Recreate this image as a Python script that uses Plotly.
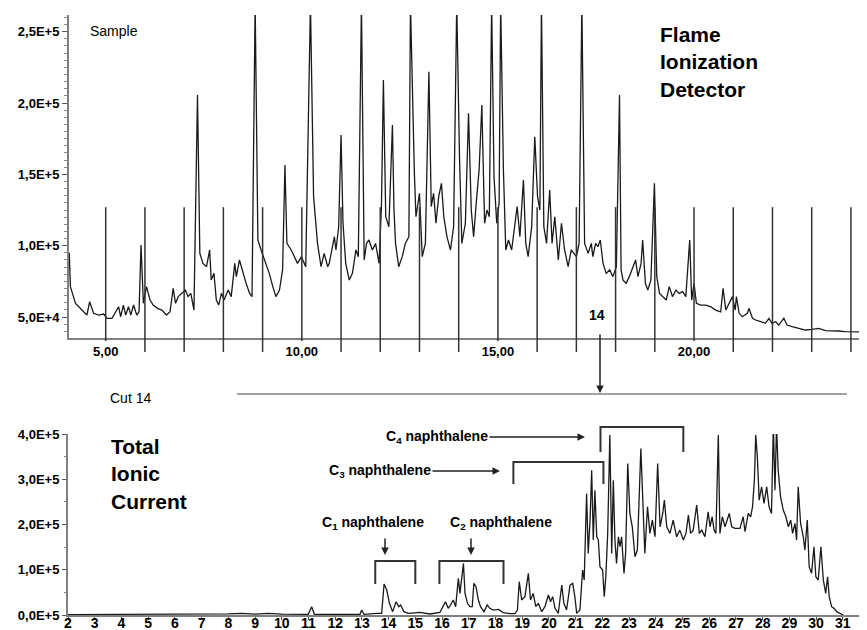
import plotly.graph_objects as go

# the page body adds an 8px margin, so the figure is drawn 8px in from the window corner
W, H = 867, 630
OFF = 8
FW, FH = W - OFF, H - OFF
FONT = "Liberation Sans, Arial, sans-serif"
INK = "#1a1a1a"
AXIS = "#808080"

# ---- Flame Ionization Detector trace (minutes, signal in thousands) ----
fid_time = [
    4.07, 4.10, 4.23, 4.40, 4.52, 4.59, 4.69, 4.82, 4.95, 5.03, 5.16, 5.33, 5.38, 5.45,
    5.51, 5.58, 5.64, 5.71, 5.79, 5.85, 5.90, 5.96, 6.04, 6.13, 6.21, 6.32, 6.43, 6.55,
    6.64, 6.72, 6.78, 6.85, 6.93, 7.03, 7.10, 7.17, 7.25, 7.34, 7.40, 7.48, 7.57, 7.65,
    7.69, 7.76, 7.82, 7.88, 7.95, 8.02, 8.12, 8.20, 8.29, 8.33, 8.41, 8.50, 8.58, 8.67,
    8.73, 8.81, 8.88, 8.96, 9.05, 9.17, 9.26, 9.34, 9.43, 9.51, 9.57, 9.62, 9.73, 9.89,
    9.99, 10.10, 10.22, 10.30, 10.40, 10.49, 10.57, 10.66,
    10.70, 10.83, 10.87, 10.94, 11.00, 11.05, 11.12, 11.21, 11.29, 11.38, 11.44, 11.52,
    11.59, 11.65, 11.71, 11.80, 11.88, 11.97, 12.03, 12.08, 12.14, 12.22, 12.31, 12.35,
    12.39, 12.47, 12.56, 12.64, 12.73, 12.77, 12.87, 12.91, 13.00, 13.07, 13.15, 13.24,
    13.30, 13.36, 13.42, 13.49, 13.56, 13.62, 13.70, 13.79, 13.87, 13.95, 14.02, 14.08,
    14.17, 14.25, 14.32, 14.38, 14.46, 14.52, 14.59, 14.66, 14.72, 14.78, 14.84, 14.90,
    14.97, 15.03, 15.07, 15.14, 15.20, 15.27, 15.35, 15.44, 15.49, 15.56, 15.65, 15.71,
    15.77, 15.86, 15.94, 16.01, 16.07, 16.11, 16.17, 16.24, 16.32, 16.38, 16.45, 16.54,
    16.62, 16.70, 16.79, 16.87, 17.00, 17.07, 17.14, 17.21, 17.30, 17.38,
    17.42, 17.49, 17.55, 17.61, 17.68, 17.76, 17.85, 17.93, 18.02, 18.10, 18.14, 18.19,
    18.27, 18.35, 18.44, 18.51, 18.57, 18.65, 18.69, 18.76, 18.82, 18.90, 18.99, 19.05,
    19.12, 19.20, 19.29, 19.37, 19.45, 19.54, 19.62, 19.71, 19.79, 19.89, 19.94, 20.00,
    20.06, 20.17, 20.30, 20.43, 20.55, 20.68, 20.74, 20.81, 20.89, 20.98, 21.05, 21.08,
    21.15, 21.23, 21.36, 21.40, 21.49, 21.57, 21.70, 21.82, 21.91, 21.99, 22.08, 22.16,
    22.29, 22.37, 22.50, 22.67, 22.84, 23.01, 23.18, 23.35, 23.52, 23.68, 23.85, 24.02,
    24.19, 24.41,
]
fid_signal_k = [
    95.0, 71.3, 59.6, 54.9, 51.4, 60.8, 52.6, 51.4, 52.1, 49.1, 49.1, 57.2, 50.2, 58.4,
    51.4, 57.2, 51.4, 58.4, 51.4, 53.7, 100.5, 59.6, 71.3, 61.9, 58.4, 56.1, 54.9, 51.4,
    53.7, 70.1, 59.6, 64.3, 66.6, 68.9, 64.3, 66.6, 54.9, 205.6, 94.6, 87.6, 85.3, 97.0,
    75.9, 80.6, 61.9, 58.4, 66.6, 61.9, 68.9, 64.3, 87.6, 78.3, 90.0, 80.6, 73.6, 66.6,
    64.3, 270.0, 104.0, 97.0, 90.0, 80.6, 71.3, 64.3, 68.9, 83.0, 156.6, 101.6, 97.0, 87.6,
    92.3, 85.3, 270.0, 134.4, 101.6, 85.3, 94.6, 85.3,
    87.6, 106.3, 97.0, 113.3, 177.6, 115.7, 87.6, 75.9, 80.6, 97.0, 92.3, 270.0,
    90.0, 101.6, 104.0, 97.0, 101.6, 87.6, 127.4, 216.2, 120.3, 113.3, 184.6, 125.0,
    101.6, 85.3, 92.3, 101.6, 106.3, 270.0, 150.7, 120.3, 136.7, 92.3, 101.6, 222.0,
    127.4, 136.7, 115.7, 134.4, 143.7, 120.3, 106.3, 97.0, 113.3, 270.0, 162.4, 101.6,
    115.7, 192.8, 125.0, 106.3, 134.4, 153.1, 198.6, 115.7, 125.0, 120.3, 270.0, 148.4,
    115.7, 129.7, 270.0, 153.1, 97.0, 104.0, 97.0, 115.7, 127.4, 106.3, 146.1, 101.6,
    92.3, 113.3, 176.4, 134.4, 125.0, 270.0, 113.3, 101.6, 139.0, 101.6, 120.3, 90.0,
    115.7, 97.0, 85.3, 97.0, 92.3, 101.6, 270.0, 101.6, 94.6, 101.6,
    92.3, 101.6, 99.3, 104.0, 87.6, 80.6, 83.0, 78.3, 85.3, 205.6, 83.0, 75.9,
    73.6, 78.3, 85.3, 90.0, 78.3, 87.6, 104.0, 73.6, 68.9, 75.9, 143.7, 78.3,
    66.6, 64.3, 61.9, 71.3, 64.3, 68.9, 66.6, 67.8, 64.3, 104.0, 61.9, 73.6,
    59.6, 58.4, 58.4, 57.2, 54.9, 53.7, 70.1, 54.9, 59.6, 64.3, 54.9, 64.3,
    52.6, 50.2, 52.6, 56.1, 49.1, 47.9, 46.7, 45.6, 49.1, 45.6, 46.7, 44.4,
    49.1, 44.4, 43.2, 42.1, 40.9, 41.4, 42.1, 40.4, 40.4, 40.2, 39.7, 39.5,
    39.5, 39.5,
]

# fraction cut markers (minutes)
cut_minutes = [5, 6, 7, 8, 9, 10, 11, 12, 13, 14, 15, 16, 17, 18, 19, 20, 21, 22, 23, 24]
cut_top_k = 127

fid_tickvals = [5, 10, 15, 20]
fid_ticktext = ["5,00", "10,00", "15,00", "20,00"]
fid_yvals = [50000, 100000, 150000, 200000, 250000]
fid_ytext = ["5,0E+4", "1,0E+5", "1,5E+5", "2,0E+5", "2,5E+5"]

# ---- Total Ionic Current, cut 14 (minutes, signal in thousands) ----
tic_time = [
    2.0, 4.0, 6.0, 7.5, 8.0, 8.5, 9.0, 9.5, 10.0, 10.99, 11.12, 11.22, 12.43, 12.93,
    12.99, 13.08, 13.55, 13.74, 13.83, 13.93, 14.03, 14.15, 14.28, 14.38, 14.45, 14.57,
    14.74, 15.17, 15.55, 15.92, 16.13, 16.23, 16.32, 16.42, 16.51, 16.61, 16.67, 16.73,
    16.80, 16.86, 16.95, 17.04, 17.13, 17.19, 17.27, 17.36, 17.44, 17.57, 17.69, 17.79,
    17.92, 18.11, 18.29, 18.54, 18.73, 18.82, 18.89, 18.98, 19.10, 19.23, 19.31, 19.41,
    19.51, 19.60, 19.73, 19.85, 19.98, 20.06, 20.14, 20.23, 20.35, 20.48, 20.56, 20.66,
    20.79, 20.89, 20.97,
    21.04, 21.16, 21.26, 21.32, 21.41, 21.47, 21.54, 21.60, 21.66, 21.72, 21.79, 21.85,
    21.91, 22.01, 22.07, 22.13, 22.20, 22.28, 22.35, 22.41, 22.47, 22.53, 22.60, 22.66,
    22.72, 22.81, 22.87, 22.95, 23.03, 23.12, 23.22, 23.31, 23.44, 23.53, 23.59, 23.69,
    23.78, 23.87, 23.97, 24.07, 24.16, 24.26, 24.32, 24.41, 24.53, 24.65, 24.78, 24.90,
    25.03, 25.13, 25.22, 25.30, 25.40, 25.53, 25.63, 25.72, 25.84, 25.96, 26.03, 26.11,
    26.18, 26.25, 26.34, 26.40, 26.49, 26.59, 26.75, 26.84, 26.96, 27.15, 27.27, 27.34,
    27.46, 27.55, 27.62, 27.69, 27.74, 27.80, 27.87, 27.96, 28.05, 28.15, 28.24, 28.33,
    28.40, 28.46, 28.52, 28.58, 28.67, 28.77, 28.87, 28.96, 29.05, 29.12, 29.21, 29.27,
    29.33, 29.42, 29.52, 29.58, 29.67, 29.74, 29.83, 29.92, 29.99, 30.08, 30.18, 30.27,
    30.36, 30.43, 30.49, 30.58, 30.67, 30.77, 30.89, 31.02,
]
tic_signal_k = [
    1.0, 1.0, 1.5, 1.5, 2.5, 3.5, 2.0, 3.5, 2.0, 1.5, 18.4, 1.5, 1.5, 1.5,
    11.0, 1.5, 3.7, 3.7, 68.4, 55.2, 25.8, 7.4, 29.4, 18.4, 22.1, 7.4,
    3.7, 5.9, 2.2, 5.9, 29.4, 14.7, 22.1, 33.1, 18.4, 80.9, 47.8, 77.3,
    114.0, 47.8, 25.8, 18.4, 18.4, 69.9, 62.5, 33.1, 18.4, 7.4, 22.1, 14.7,
    11.0, 12.5, 5.2, 2.9, 2.9, 11.0, 73.6, 33.1, 40.5, 92.0, 33.1, 47.8,
    18.4, 25.8, 7.4, 18.4, 44.1, 29.4, 40.5, 14.7, 3.7, 66.2, 25.8, 11.0,
    66.2, 69.9, 40.5,
    3.7, 11.0, 99.3, 77.3, 268.6, 136.1, 209.7, 320.1, 165.6, 275.9, 172.9, 165.6,
    106.7, 99.3, 40.5, 84.6, 180.3, 398.0, 136.1, 298.0, 165.6, 114.0, 172.9, 150.8,
    172.9, 92.0, 136.1, 334.8, 224.4, 195.0, 128.8, 143.5, 367.9, 209.7, 136.1, 239.1,
    180.3, 209.7, 172.9, 334.8, 195.0, 224.4, 253.9, 195.0, 180.3, 209.7, 172.9, 187.6,
    165.6, 180.3, 220.7, 180.3, 187.6, 242.8, 180.3, 187.6, 172.9, 228.1, 195.0, 217.1,
    187.6, 180.3, 398.0, 180.3, 217.1, 195.0, 224.4, 195.0, 191.3, 191.3, 217.1, 184.0,
    224.4, 217.1, 239.1, 298.0, 398.0, 349.5, 253.9, 283.3, 246.5, 283.3, 239.1, 224.4,
    420.0, 275.9, 420.0, 320.1, 261.2, 231.8, 217.1, 195.0, 209.7, 180.3, 202.3, 165.6,
    283.3, 202.3, 172.9, 143.5, 209.7, 106.7, 92.0, 150.8, 84.6, 77.3, 150.8, 77.3,
    47.8, 84.6, 40.5, 18.4, 14.7, 7.4, 3.7, 0.0,
]

tic_yvals = [0, 100000, 200000, 300000, 400000]
tic_ytext = ["0,0E+5", "1,0E+5", "2,0E+5", "3,0E+5", "4,0E+5"]

# naphthalene groups: label, bracket start/end (min)
groups = [
    ("C<sub>1</sub> naphthalene", 13.5, 15.0),
    ("C<sub>2</sub> naphthalene", 15.9, 18.3),
    ("C<sub>3</sub> naphthalene", 18.67, 22.04),
    ("C<sub>4</sub> naphthalene", 21.93, 25.03),
]


def px(x):
    # window pixel -> paper fraction
    return (x - OFF) / FW


def py(y):
    return 1 - (y - OFF) / FH


fig = go.Figure()
fig.add_trace(go.Scatter(
    x=fid_time, y=[v * 1000 for v in fid_signal_k], mode="lines",
    line=dict(color=INK, width=1.3), xaxis="x", yaxis="y", showlegend=False,
))
fig.add_trace(go.Scatter(
    x=tic_time, y=[v * 1000 for v in tic_signal_k], mode="lines",
    line=dict(color=INK, width=1.3), xaxis="x2", yaxis="y2", showlegend=False,
))

shapes = []
# cut marker lines on the FID chromatogram
for m in cut_minutes:
    bottom = 341 if m in fid_tickvals else 352
    shapes.append(dict(type="line", xref="x", yref="paper", x0=m, x1=m,
                       y0=py(bottom), y1=py(317 - (cut_top_k - 50) / 0.701),
                       line=dict(color="#333333", width=1.5)))
# horizontal separator for cut 14
shapes.append(dict(type="line", xref="paper", yref="paper", x0=px(237), x1=px(847),
                   y0=py(394), y1=py(394), line=dict(color="#444444", width=1)))
# brackets: (top px, leg bottom px)
bracket_y = [(561, 584), (561, 584), (462, 484), (427, 452)]
for (label, a, b), (top, bot) in zip(groups, bracket_y):
    shapes.append(dict(
        type="path", xref="x2", yref="paper",
        path=f"M {a},{py(bot)} L {a},{py(top)} L {b},{py(top)} L {b},{py(bot)}",
        line=dict(color="#333333", width=2),
    ))

bold = dict(family=FONT, size=14, color="black", weight="bold")
arrow = dict(showarrow=True, arrowhead=2, arrowsize=1, arrowwidth=1.5,
             arrowcolor="#222222")
annotations = [
    dict(text="Sample", x=px(88), y=py(31), xanchor="left", yanchor="middle",
         font=dict(family=FONT, size=14, color="black")),
    dict(text="Flame<br>Ionization<br>Detector", x=px(658), y=py(62), xanchor="left",
         yanchor="middle", align="left",
         font=dict(family=FONT, size=21, color="black", weight="bold")),
    dict(text="14", x=px(597), y=py(315), xanchor="center", yanchor="middle", font=bold),
    dict(text="", x=px(600), y=py(393), ax=0, ay=-60, standoff=0, **arrow),
    dict(text="Cut 14", x=px(108), y=py(398), xanchor="left", yanchor="middle",
         font=dict(family=FONT, size=14, color="black")),
    dict(text="Total<br>Ionic<br>Current", x=px(109), y=py(474), xanchor="left",
         yanchor="middle", align="left",
         font=dict(family=FONT, size=21, color="black", weight="bold")),
    # C4 / C3 labels with horizontal arrows
    dict(text=groups[3][0], x=px(585), y=py(437), ax=437 - 585, ay=0, font=bold, **arrow),
    dict(text=groups[2][0], x=px(500), y=py(471), ax=380 - 500, ay=0, font=bold, **arrow),
    # C1 / C2 labels with down arrows
    dict(text=groups[0][0], x=px(373), y=py(523), xanchor="center", yanchor="middle",
         font=bold),
    dict(text=groups[1][0], x=px(501), y=py(523), xanchor="center", yanchor="middle",
         font=bold),
    dict(text="", x=px(385), y=py(555), ax=0, ay=-18, standoff=0, **arrow),
    dict(text="", x=px(471), y=py(555), ax=0, ay=-18, standoff=0, **arrow),
]
for a in annotations:
    a.setdefault("xref", "paper")
    a.setdefault("yref", "paper")
    a.setdefault("showarrow", False)

tickfont = dict(family=FONT, size=13, color="black", weight="bold")

fig.update_layout(
    width=FW, height=FH, autosize=False,
    margin=dict(l=0, r=0, t=0, b=0, pad=0),
    paper_bgcolor="white", plot_bgcolor="white",
    shapes=shapes, annotations=annotations,
    xaxis=dict(domain=[px(69), 1.0], range=[4.064, 24.41], anchor="y", automargin=False,
               tickmode="array", tickvals=fid_tickvals, ticktext=fid_ticktext,
               ticks="", showgrid=False, zeroline=False,
               showline=True, linecolor=AXIS, linewidth=2, tickfont=tickfont),
    yaxis=dict(domain=[py(338), py(15)], range=[35300, 261700], anchor="x", automargin=False,
               tickmode="array", tickvals=fid_yvals, ticktext=fid_ytext,
               ticks="outside", ticklen=5, tickcolor="#555555",
               minor=dict(dtick=5000, ticks="outside", ticklen=3, tickcolor="#888888"),
               showgrid=False, zeroline=False,
               showline=True, linecolor=AXIS, linewidth=2, tickfont=tickfont),
    xaxis2=dict(domain=[px(68), px(865)], range=[2.0, 31.83], anchor="y2", automargin=False,
                tickmode="linear", tick0=2, dtick=1,
                ticks="outside", ticklen=3, tickcolor="#555555", ticklabelstandoff=-9,
                showgrid=False, zeroline=False,
                showline=True, linecolor=AXIS, linewidth=2,
                tickfont=dict(family=FONT, size=14, color="black", weight="bold")),
    yaxis2=dict(domain=[py(615), py(434)], range=[0, 400000], anchor="x2", automargin=False,
                tickmode="array", tickvals=tic_yvals, ticktext=tic_ytext,
                ticks="outside", ticklen=4, tickcolor="#555555",
                minor=dict(dtick=50000, ticks="outside", ticklen=2, tickcolor="#888888"),
                showgrid=False, zeroline=False,
                showline=True, linecolor=AXIS, linewidth=2, tickfont=tickfont),
)

fig.write_html("out.html")
